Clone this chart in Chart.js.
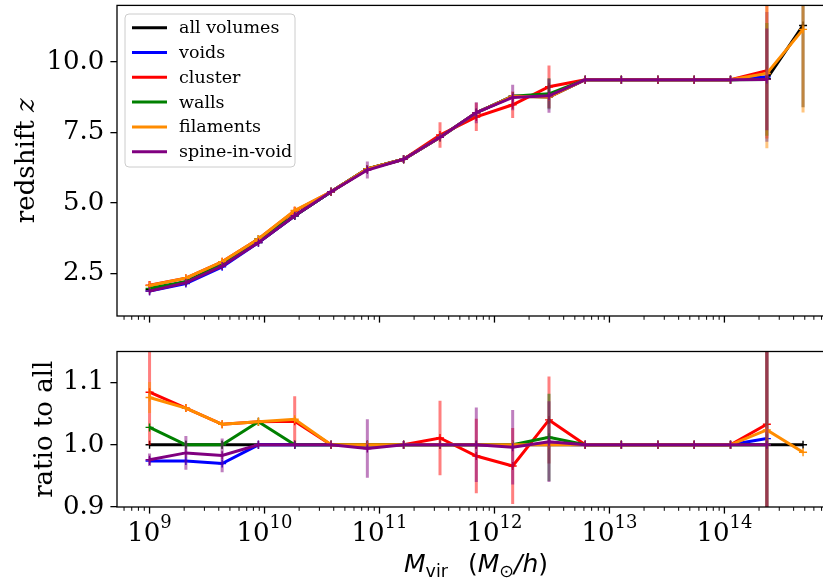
<!DOCTYPE html>
<html>
<head>
<meta charset="utf-8">
<title>Formation redshift vs halo mass</title>
<script src="https://cdn.jsdelivr.net/npm/chart.js@4.4.1/dist/chart.umd.min.js"></script>
<style>
  html, body { margin: 0; padding: 0; background: #fff; overflow: hidden; }
  #wrap { position: relative; width: 823px; height: 583px; overflow: hidden; }
  #topPanel { position: absolute; left: 0; top: 0; }
  #ratioPanel { position: absolute; left: 0; top: 335px; }
</style>
</head>
<body>
<div id="wrap">
  <canvas id="topPanel" width="850" height="335"></canvas>
  <canvas id="ratioPanel" width="850" height="248"></canvas>
</div>
<script>
// halo mass bins (M_sun/h)
const massBins = [1.00e9, 2.07e9, 4.28e9, 8.85e9, 1.83e10, 3.79e10, 7.84e10, 1.62e11, 3.36e11,
  6.95e11, 1.44e12, 2.98e12, 6.16e12, 1.27e13, 2.64e13, 5.46e13, 1.13e14, 2.34e14, 4.83e14];

const seriesNames = ['all volumes', 'voids', 'cluster', 'walls', 'filaments', 'spine-in-void'];
const seriesColors = ['#000000', '#0000ff', '#ff0000', '#008000', '#ff8c00', '#800080'];

// median redshift per bin
const zAll       = [1.93, 2.21, 2.82, 3.60, 4.55, 5.40, 6.21, 6.55, 7.33, 8.20, 8.78, 8.76, 9.37, 9.37, 9.37, 9.37, 9.37, 9.40, 11.29];
const zVoids     = [1.88, 2.15, 2.74, 3.60, 4.55, 5.40, 6.21, 6.55, 7.33, 8.20, 8.78, 8.77, 9.37, 9.37, 9.37, 9.37, 9.37, 9.47];
const zCluster   = [2.09, 2.34, 2.92, 3.73, 4.72, 5.40, 6.21, 6.55, 7.41, 8.05, 8.48, 9.12, 9.37, 9.37, 9.37, 9.37, 9.37, 9.69];
const zWalls     = [1.98, 2.21, 2.82, 3.73, 4.55, 5.40, 6.21, 6.55, 7.33, 8.20, 8.78, 8.87, 9.37, 9.37, 9.37, 9.37, 9.37, 9.38];
const zFilaments = [2.08, 2.34, 2.92, 3.73, 4.74, 5.40, 6.21, 6.55, 7.33, 8.20, 8.78, 8.76, 9.37, 9.37, 9.37, 9.37, 9.37, 9.59, 11.15];
const zSpine     = [1.88, 2.18, 2.77, 3.60, 4.55, 5.40, 6.17, 6.55, 7.33, 8.20, 8.74, 8.80, 9.37, 9.37, 9.37, 9.37, 9.37, 9.38];

// scatter on z
const zErrAll       = [0, 0, 0, 0, 0, 0, 0, 0, 0, 0, 0, 0, 0, 0, 0, 0, 0, 0, 2.90];
const zErrVoids     = [0, 0, 0, 0, 0, 0, 0, 0, 0, 0, 0, 0, 0, 0, 0, 0, 0, 2.30];
const zErrCluster   = [0.15, 0, 0, 0, 0.15, 0, 0, 0, 0.45, 0.50, 0.47, 0.75, 0, 0, 0, 0, 0, 2.40];
const zErrWalls     = [0, 0, 0, 0, 0, 0, 0, 0, 0, 0, 0, 0.55, 0, 0, 0, 0, 0, 2.00];
const zErrFilaments = [0, 0, 0, 0, 0, 0, 0, 0, 0, 0, 0, 0, 0, 0, 0, 0, 0, 2.65, 2.94];
const zErrSpine     = [0, 0, 0, 0, 0, 0, 0.30, 0, 0, 0.37, 0.45, 0.60, 0, 0, 0, 0, 0, 1.80];

// ratio of each environment to the full volume
const rAll       = [1, 1, 1, 1, 1, 1, 1, 1, 1, 1, 1, 1, 1, 1, 1, 1, 1, 1, 1];
const rVoids     = [0.974, 0.974, 0.970, 1.0, 1.0, 1.0, 1.0, 1.0, 1.0, 1.0, 1.0, 1.001, 1.0, 1.0, 1.0, 1.0, 1.0, 1.010];
const rCluster   = [1.0845, 1.059, 1.033, 1.037, 1.038, 1.0, 1.0, 1.0, 1.011, 0.982, 0.966, 1.040, 1.0, 1.0, 1.0, 1.0, 1.0, 1.033];
const rWalls     = [1.028, 1.0, 1.0, 1.037, 1.0, 1.0, 1.0, 1.0, 1.0, 1.0, 1.0, 1.012, 1.0, 1.0, 1.0, 1.0, 1.0, 1.0];
const rFilaments = [1.076, 1.059, 1.033, 1.037, 1.041, 1.0, 1.0, 1.0, 1.0, 1.0, 1.0, 1.0, 1.0, 1.0, 1.0, 1.0, 1.0, 1.024, 0.988];
const rSpine     = [0.976, 0.987, 0.983, 1.0, 1.0, 1.0, 0.994, 1.0, 1.0, 1.0, 0.996, 1.005, 1.0, 1.0, 1.0, 1.0, 1.0, 1.0];

const rErrAll       = [0, 0, 0, 0, 0, 0, 0, 0, 0, 0, 0, 0, 0, 0, 0, 0, 0, 0, 0];
const rErrVoids     = [0, 0, 0, 0, 0, 0, 0, 0, 0, 0, 0, 0, 0, 0, 0, 0, 0, 0.30];
const rErrCluster   = [0.085, 0, 0, 0, 0.04, 0, 0, 0, 0.06, 0.06, 0.061, 0.07, 0, 0, 0, 0, 0, 0.30];
const rErrWalls     = [0, 0, 0, 0, 0, 0, 0, 0, 0, 0, 0, 0.07, 0, 0, 0, 0, 0, 0.30];
const rErrFilaments = [0.025, 0, 0, 0, 0, 0, 0, 0, 0, 0, 0, 0, 0, 0, 0, 0, 0, 0.30, 0];
const rErrSpine     = [0.01, 0.027, 0.027, 0, 0, 0, 0.047, 0, 0, 0.06, 0.06, 0.065, 0, 0, 0, 0, 0, 0.30];

// axes
const xMin = 5.21e8, xMax = 9.16e14;
const xMajorTicks = [1e9, 1e10, 1e11, 1e12, 1e13, 1e14];
const xTickExponents = ['9', '10', '11', '12', '13', '14'];
const zTicks = [2.5, 5.0, 7.5, 10.0];
const ratioTicks = [0.9, 1.0, 1.1];

const SERIF = "'DejaVu Serif', serif";
const SANS = "'DejaVu Sans', sans-serif";
const LINE_W = 3;

// minor ticks at 2..9 x 10^n
const xMinorTicks = [];
for (let e = 8; e <= 14; e++) {
  for (let m = 2; m <= 9; m++) xMinorTicks.push(m * Math.pow(10, e));
}

function buildDatasets(values, errors) {
  return values.map((vals, i) => ({
    label: seriesNames[i],
    data: vals.map((v, j) => ({ x: massBins[j], y: v })),
    errors: errors[i],
    borderColor: seriesColors[i],
    backgroundColor: seriesColors[i],
    borderWidth: LINE_W,
    pointStyle: 'cross',
    pointRadius: 4,
    pointBorderWidth: 1.4,
    pointBorderColor: seriesColors[i],
    tension: 0,
    fill: false,
    order: values.length - i
  }));
}

// draw a sequence of text runs (mixed fonts / sub- and superscripts)
function runsWidth(ctx, runs) {
  let w = 0;
  runs.forEach(r => { ctx.font = r.font || ctx.font; w += r.gap || ctx.measureText(r.text).width; });
  return w;
}
function drawRuns(ctx, runs, cx, baseline) {
  let x = cx - runsWidth(ctx, runs) / 2;
  runs.forEach(r => {
    if (r.gap) { x += r.gap; return; }
    ctx.font = r.font;
    ctx.fillText(r.text, x, baseline + (r.dy || 0));
    x += ctx.measureText(r.text).width;
  });
}

// vertical error bars, drawn right after each series
const errorBars = {
  id: 'errorBars',
  afterDatasetDraw(chart, args) {
    const ds = chart.data.datasets[args.index];
    if (!ds.errors) return;
    const { ctx, chartArea: a, scales: { x, y } } = chart;
    ctx.save();
    ctx.beginPath();
    ctx.rect(a.left, a.top, a.right - a.left, a.bottom - a.top);
    ctx.clip();
    ctx.globalAlpha = 0.5;
    ctx.strokeStyle = ds.borderColor;
    ctx.lineWidth = LINE_W;
    ds.data.forEach((p, i) => {
      const e = ds.errors[i];
      if (!e) return;
      const px = x.getPixelForValue(p.x);
      ctx.beginPath();
      ctx.moveTo(px, y.getPixelForValue(p.y - e));
      ctx.lineTo(px, y.getPixelForValue(p.y + e));
      ctx.stroke();
    });
    ctx.restore();
  }
};

// frame, log ticks, axis titles and legend
const panelAxes = {
  id: 'panelAxes',
  afterDraw(chart, args, opts) {
    const { ctx, chartArea: a, scales: { x } } = chart;
    ctx.save();
    ctx.strokeStyle = '#000';
    ctx.lineWidth = 1.3;
    ctx.strokeRect(a.left, a.top, a.right - a.left, a.bottom - a.top);

    const tick = (v, len, w) => {
      const px = x.getPixelForValue(v);
      if (px < a.left - 0.5 || px > a.right + 0.5) return;
      ctx.lineWidth = w;
      ctx.beginPath();
      ctx.moveTo(px, a.bottom);
      ctx.lineTo(px, a.bottom + len);
      ctx.stroke();
    };
    xMinorTicks.forEach(v => tick(v, 3.8, 1.0));
    xMajorTicks.forEach(v => tick(v, 6.6, 1.3));

    ctx.fillStyle = '#000';
    ctx.textAlign = 'left';
    ctx.textBaseline = 'alphabetic';

    if (opts.tickLabels) {
      xMajorTicks.forEach((v, i) => {
        drawRuns(ctx, [
          { text: '10', font: '26px ' + SERIF },
          { text: xTickExponents[i], font: '18px ' + SERIF, dy: -13 }
        ], x.getPixelForValue(v), a.bottom + 33.5);
      });
    }
    if (opts.xTitle) {
      drawRuns(ctx, opts.xTitle, (a.left + a.right) / 2, opts.xTitleY);
    }
    if (opts.yTitle) {
      ctx.save();
      ctx.translate(opts.yTitleX, (a.top + a.bottom) / 2);
      ctx.rotate(-Math.PI / 2);
      drawRuns(ctx, opts.yTitle, 0, 0);
      ctx.restore();
    }
    if (opts.legend) {
      const L = opts.legend;
      ctx.beginPath();
      ctx.roundRect(L.x, L.y, L.w, L.h, 4);
      ctx.fillStyle = 'rgba(255,255,255,0.8)';
      ctx.fill();
      ctx.strokeStyle = '#cccccc';
      ctx.lineWidth = 1;
      ctx.stroke();
      ctx.textBaseline = 'middle';
      ctx.font = '17.5px ' + SERIF;
      chart.data.datasets.forEach((ds, i) => {
        const ry = L.y + 13.7 + i * 24.8;
        ctx.strokeStyle = ds.borderColor;
        ctx.lineWidth = LINE_W;
        ctx.beginPath();
        ctx.moveTo(L.x + 7, ry);
        ctx.lineTo(L.x + 42, ry);
        ctx.stroke();
        ctx.fillStyle = '#000';
        ctx.fillText(ds.label, L.x + 54, ry + 1);
      });
    }
    ctx.restore();
  }
};

function yScale(min, max, ticks) {
  return {
    min: min,
    max: max,
    afterFit: s => {
      s.width = 117;
      s.paddingTop = 0;
      s.paddingBottom = 0;
    },
    afterBuildTicks: s => { s.ticks = ticks.map(v => ({ value: v })); },
    ticks: {
      callback: v => v.toFixed(1),
      font: { family: SERIF, size: 26 },
      color: '#000',
      padding: 6
    },
    grid: { drawOnChartArea: false, drawTicks: true, tickLength: 6.6, color: '#000', lineWidth: 1.3 },
    border: { display: false }
  };
}

const topChart = new Chart(document.getElementById('topPanel'), {
  type: 'line',
  data: {
    datasets: buildDatasets(
      [zAll, zVoids, zCluster, zWalls, zFilaments, zSpine],
      [zErrAll, zErrVoids, zErrCluster, zErrWalls, zErrFilaments, zErrSpine])
  },
  options: {
    responsive: false,
    animation: false,
    events: [],
    layout: { padding: { top: 5, right: 15, bottom: 19, left: 0 } },
    plugins: {
      legend: { display: false },
      tooltip: { enabled: false },
      panelAxes: {
        yTitle: [
          { text: 'redshift ', font: '26px ' + SERIF },
          { text: 'z', font: 'italic 26px ' + SERIF }
        ],
        yTitleX: 34,
        legend: { x: 125, y: 14, w: 170, h: 153 }
      }
    },
    scales: {
      x: { type: 'logarithmic', display: false, min: xMin, max: xMax },
      y: yScale(1, 12, zTicks)
    }
  },
  plugins: [errorBars, panelAxes]
});

const ratioChart = new Chart(document.getElementById('ratioPanel'), {
  type: 'line',
  data: {
    datasets: buildDatasets(
      [rAll, rVoids, rCluster, rWalls, rFilaments, rSpine],
      [rErrAll, rErrVoids, rErrCluster, rErrWalls, rErrFilaments, rErrSpine])
  },
  options: {
    responsive: false,
    animation: false,
    events: [],
    layout: { padding: { top: 16.5, right: 15, bottom: 76, left: 0 } },
    plugins: {
      legend: { display: false },
      tooltip: { enabled: false },
      panelAxes: {
        tickLabels: true,
        xTitle: [
          { text: 'M', font: 'italic 25px ' + SANS },
          { text: 'vir', font: '17.5px ' + SANS, dy: 5 },
          { gap: 20 },
          { text: '(', font: '25px ' + SANS },
          { text: 'M', font: 'italic 25px ' + SANS },
          { text: '\u2299', font: '17.5px ' + SANS, dy: 5 },
          { text: '/', font: 'italic 25px ' + SANS },
          { text: 'h', font: 'italic 25px ' + SANS },
          { text: ')', font: '25px ' + SANS }
        ],
        xTitleY: 237,
        yTitle: [{ text: 'ratio to all', font: '26px ' + SERIF }],
        yTitleX: 52
      }
    },
    scales: {
      x: { type: 'logarithmic', display: false, min: xMin, max: xMax },
      y: yScale(0.9, 1.15, ratioTicks)
    }
  },
  plugins: [errorBars, panelAxes]
});
</script>
</body>
</html>
